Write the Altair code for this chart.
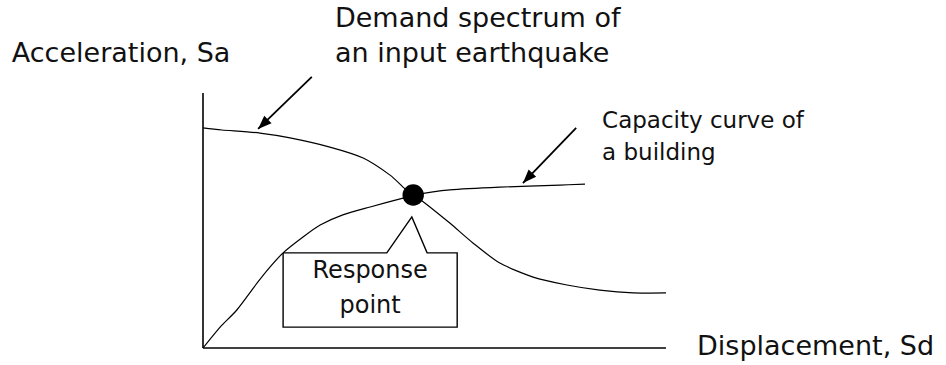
import math
import altair as alt
import pandas as pd

# Schematic of the capacity-spectrum method: Sd on x, Sa on y (arbitrary units 0-10)

# Demand spectrum of the input earthquake
demand_sd = [0.0, 0.41, 1.23, 1.88, 2.74, 3.46, 4.04, 4.32, 4.54, 4.79, 5.33, 5.83, 6.41, 7.13, 7.86, 8.57, 9.29, 10.0]
demand_sa = [8.63, 8.55, 8.43, 8.24, 7.88, 7.45, 6.78, 6.31, 6.00, 5.69, 4.90, 4.12, 3.33, 2.78, 2.47, 2.27, 2.16, 2.16]

# Capacity (pushover) curve of the building
capacity_sd = [0.0, 0.37, 0.73, 1.17, 1.45, 1.73, 2.16, 2.53, 3.02, 3.61, 4.32, 4.54, 5.33, 6.41, 7.71, 8.25]
capacity_sa = [0.0, 0.82, 1.49, 2.55, 3.18, 3.73, 4.35, 4.82, 5.22, 5.53, 5.88, 6.00, 6.20, 6.31, 6.39, 6.43]

# Intersection of the two curves
response_sd = [4.54]
response_sa = [6.00]

# Axis lines: Sd axis along the bottom, Sa axis up the left side
axis_sd0 = [0.0, 0.0]
axis_sa0 = [0.0, 0.0]
axis_sd1 = [10.0, 0.0]
axis_sa1 = [0.0, 10.0]

# Leader arrows: start (near the caption) -> tip (on the curve)
arrow_sd0 = [2.35, 8.06]
arrow_sa0 = [10.63, 8.63]
arrow_sd1 = [1.19, 6.91]
arrow_sa1 = [8.59, 6.47]

# Callout outline for "Response point" with its pointer toward the intersection
callout_sd = [1.73, 3.97, 4.51, 4.84, 5.49, 5.49, 1.73, 1.73]
callout_sa = [3.73, 3.73, 5.14, 3.73, 3.73, 0.82, 0.82, 3.73]

# Captions
caption_sa_label = ["Acceleration, Sa"]
caption_sa_pos = ([-4.13], [11.22])
caption_demand = ["Demand  spectrum  of", "an input earthquake"]
caption_demand_pos = ([2.85, 2.85], [12.59, 11.22])
caption_capacity = ["Capacity curve of", "a building"]
caption_capacity_pos = ([8.62, 8.62], [8.63, 7.37])
caption_response = ["Response", "point"]
caption_response_pos = ([3.61, 3.61], [2.75, 1.37])
caption_sd_label = ["Displacement, Sd"]
caption_sd_pos = ([10.67], [-0.27])

W, H = 463, 255
DOMAIN = [0, 10]
FONT = "DejaVu Sans"
INK = "#111111"

xs = alt.Scale(domain=DOMAIN, nice=False, zero=False)
ys = alt.Scale(domain=DOMAIN, nice=False, zero=False)


def X(field="sd"):
    return alt.X(f"{field}:Q", scale=xs, axis=None)


def Y(field="sa"):
    return alt.Y(f"{field}:Q", scale=ys, axis=None)


capacity_df = pd.DataFrame({"sd": capacity_sd, "sa": capacity_sa})
demand_df = pd.DataFrame({"sd": demand_sd, "sa": demand_sa})

axes = alt.Chart(pd.DataFrame({"sd0": axis_sd0, "sa0": axis_sa0,
                               "sd1": axis_sd1, "sa1": axis_sa1})).mark_rule(
    color="black", strokeWidth=1.6
).encode(x=X("sd0"), y=Y("sa0"), x2="sd1:Q", y2="sa1:Q")

capacity = alt.Chart(capacity_df).mark_line(
    color="black", strokeWidth=1.2, interpolate="cardinal", tension=0.3
).encode(x=X(), y=Y())

demand = alt.Chart(demand_df).mark_line(
    color="black", strokeWidth=1.2, interpolate="cardinal", tension=0.3
).encode(x=X(), y=Y())

dot = alt.Chart(pd.DataFrame({"sd": response_sd, "sa": response_sa})).mark_circle(
    color="black", opacity=1, size=460
).encode(x=X(), y=Y())

# Arrowhead rotation follows each leader's direction on screen
kx, ky = W / (DOMAIN[1] - DOMAIN[0]), H / (DOMAIN[1] - DOMAIN[0])
angles = []
for a0, b0, a1, b1 in zip(arrow_sd0, arrow_sa0, arrow_sd1, arrow_sa1):
    bx, by = (a0 - a1) * kx, -(b0 - b1) * ky
    angles.append(math.degrees(math.atan2(-bx, by)) % 360)

arrows_df = pd.DataFrame({"sd0": arrow_sd0, "sa0": arrow_sa0,
                          "sd1": arrow_sd1, "sa1": arrow_sa1, "angle": angles})

leaders = alt.Chart(arrows_df).mark_rule(color="black", strokeWidth=1.8).encode(
    x=X("sd0"), y=Y("sa0"), x2="sd1:Q", y2="sa1:Q"
)

heads = alt.Chart(arrows_df).mark_point(
    shape="M0,0L-1,2.6L1,2.6Z", filled=True, color="black", opacity=1, size=110
).encode(x=X("sd1"), y=Y("sa1"), angle=alt.Angle("angle:Q", scale=None))

callout_df = pd.DataFrame({"sd": callout_sd, "sa": callout_sa, "i": list(range(len(callout_sd)))})
callout = alt.Chart(callout_df).mark_line(color="black", strokeWidth=1.4).encode(
    x=X(), y=Y(), order="i:Q"
)


def captions(labels, pos, size, align="left"):
    df = pd.DataFrame({"label": labels, "sd": pos[0], "sa": pos[1]})
    return alt.Chart(df).mark_text(
        font=FONT, fontSize=size, color=INK, align=align, baseline="alphabetic"
    ).encode(x=X(), y=Y(), text="label:N")


chart = alt.layer(
    axes,
    capacity,
    demand,
    callout,
    leaders,
    heads,
    dot,
    captions(caption_sa_label, caption_sa_pos, 27),
    captions(caption_demand, caption_demand_pos, 27),
    captions(caption_capacity, caption_capacity_pos, 23),
    captions(caption_response, caption_response_pos, 24, align="center"),
    captions(caption_sd_label, caption_sd_pos, 27),
).properties(
    width=W,
    height=H,
    padding={"left": 203, "top": 93, "right": 280, "bottom": 17},
    autosize=alt.AutoSizeParams(type="none"),
    background="white",
).configure_view(stroke=None)

chart.save("out.html", embed_options={"renderer": "svg", "actions": False})
